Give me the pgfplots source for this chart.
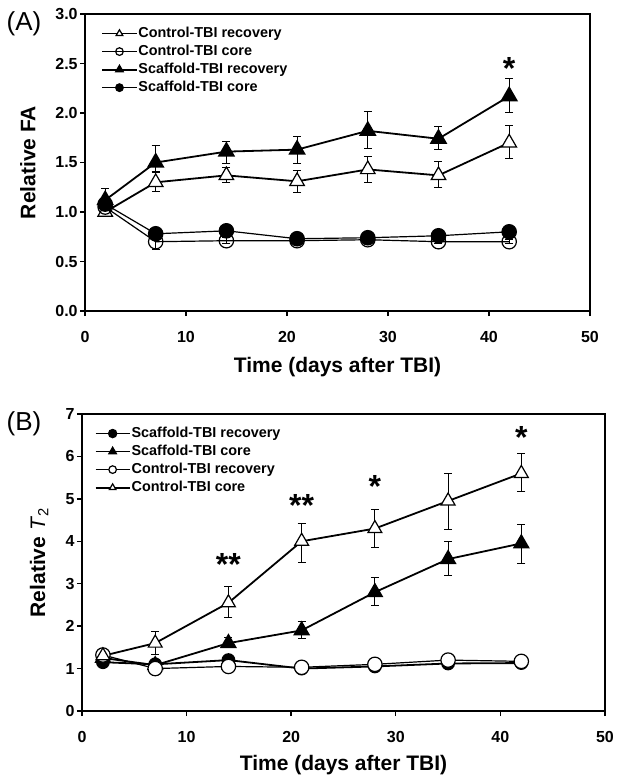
\documentclass[border=0pt]{standalone}
\usepackage{fontspec}
\setmainfont{Liberation Sans}
\usepackage{pgfplots}
\pgfplotsset{compat=1.18}

\pgfplotsset{
  panel/.style={
    scale only axis,
    xmin=0, xmax=50,
    xtick={0,10,...,50},
    tick pos=left,
    tick align=outside,
    major tick length=2.5pt,
    axis line style={line width=1pt},
    every tick/.style={black, line width=0.7pt},
    tick label style={font=\fontsize{8}{9}\selectfont\bfseries},
    /pgf/number format/assume math mode=true,
    yticklabel style={inner sep=1pt},
    xticklabel style={yshift=-4pt},
    legend cell align=left,
    legend style={draw=none, fill=none, font=\fontsize{7.2}{8}\selectfont\bfseries,
      row sep=1.3pt, nodes={inner sep=0.5pt}},
    legend image post style={mark size=1.9pt},
    error bars/y dir=both,
    error bars/y explicit,
    error bars/error bar style={line width=0.5pt},
    error bars/error mark options={rotate=90, mark size=2pt, line width=0.5pt},
  },
  thk/.style={black, line width=0.9pt},
  thn/.style={black, line width=0.6pt},
}

\begin{document}
\begin{tikzpicture}
\path[use as bounding box] (0,0) rectangle (310pt,392pt);

% (A) relative FA
\begin{axis}[panel,
  at={(42.5pt,236.5pt)}, anchor=south west,
  width=252.5pt, height=148.5pt,
  ymin=0, ymax=3, ytick={0,0.5,...,3},
  yticklabel style={/pgf/number format/.cd, fixed, fixed zerofill, precision=1},
  xlabel={\bfseries Time (days after TBI)},
  ylabel={\bfseries Relative FA},
  xlabel style={at={(axis description cs:0.5,-0.1886)}, anchor=center, font=\fontsize{10.5}{11}\selectfont},
  ylabel style={at={(axis description cs:-0.113,0.5)}, anchor=center, font=\fontsize{10.5}{11}\selectfont},
  legend style={at={(0.02,0.975)}, anchor=north west},
]
\addplot[thk, mark=triangle*, mark size=4.2pt, mark options={fill=white, line width=0.6pt}]
  coordinates {
  (2,1.00) += (0,0.05) -= (0,0.05)
  (7,1.30) += (0,0.11) -= (0,0.09)
  (14,1.37) += (0,0.08) -= (0,0.07)
  (21,1.31) += (0,0.11) -= (0,0.11)
  (28,1.43) += (0,0.13) -= (0,0.13)
  (35,1.37) += (0,0.14) -= (0,0.12)
  (42,1.70) += (0,0.17) -= (0,0.16)
};
\addlegendentry{Control-TBI recovery}
\addplot[thn, mark=o, mark size=3.6pt, mark options={fill=white, line width=0.6pt}]
  coordinates {
  (2,1.05) += (0,0.04) -= (0,0.04)
  (7,0.70) += (0,0.04) -= (0,0.08)
  (14,0.71) += (0,0.03) -= (0,0.03)
  (21,0.71) += (0,0.03) -= (0,0.03)
  (28,0.72) += (0,0.03) -= (0,0.03)
  (35,0.70) += (0,0.02) -= (0,0.02)
  (42,0.70) += (0,0.02) -= (0,0.02)
};
\addlegendentry{Control-TBI core}
\addplot[thk, mark=triangle*, mark size=4.2pt, mark options={fill=black}]
  coordinates {
  (2,1.12) += (0,0.12) -= (0,0.08)
  (7,1.50) += (0,0.17) -= (0,0.10)
  (14,1.61) += (0,0.10) -= (0,0.12)
  (21,1.63) += (0,0.13) -= (0,0.14)
  (28,1.82) += (0,0.20) -= (0,0.18)
  (35,1.74) += (0,0.12) -= (0,0.11)
  (42,2.17) += (0,0.18) -= (0,0.16)
};
\addlegendentry{Scaffold-TBI recovery}
\addplot[thn, mark=*, mark size=3.6pt, mark options={fill=black}]
  coordinates {
  (2,1.08) += (0,0.03) -= (0,0.03)
  (7,0.78) += (0,0.03) -= (0,0.03)
  (14,0.81) += (0,0.03) -= (0,0.03)
  (21,0.73) += (0,0.03) -= (0,0.03)
  (28,0.74) += (0,0.03) -= (0,0.03)
  (35,0.76) += (0,0.03) -= (0,0.03)
  (42,0.80) += (0,0.03) -= (0,0.03)
};
\addlegendentry{Scaffold-TBI core}
\node[font=\fontsize{16}{16}\selectfont\bfseries] at (axis cs:42,2.45) {*};
\end{axis}
\node[font=\fontsize{13}{14}\selectfont] at (12pt,380pt) {(A)};

% (B) relative T2
\begin{axis}[panel,
  at={(41pt,36.5pt)}, anchor=south west,
  width=261.5pt, height=148.5pt,
  ymin=0, ymax=7, ytick={0,1,...,7},
  xlabel={\bfseries Time (days after TBI)},
  ylabel={{\bfseries Relative} \textit{T}\textsubscript{2}},
  xlabel style={at={(axis description cs:0.5,-0.182)}, anchor=center, font=\fontsize{10.5}{11}\selectfont},
  ylabel style={at={(axis description cs:-0.082,0.5)}, anchor=center, font=\fontsize{10.5}{11}\selectfont},
  legend style={at={(0.012,0.975)}, anchor=north west},
]
\addplot[thk, mark=*, mark size=3pt, mark options={fill=black}]
  coordinates {
  (2,1.15) (7,1.10) (14,1.20) (21,1.00) (28,1.05) (35,1.12) (42,1.13)
};
\addlegendentry{Scaffold-TBI recovery}
\addplot[thk, mark=triangle*, mark size=4pt, mark options={fill=black}]
  coordinates {
  (2,1.25) += (0,0.05) -= (0,0.05)
  (7,1.08) += (0,0.05) -= (0,0.05)
  (14,1.60) += (0,0.13) -= (0,0.10)
  (21,1.90) += (0,0.22) -= (0,0.20)
  (28,2.80) += (0,0.34) -= (0,0.32)
  (35,3.58) += (0,0.42) -= (0,0.38)
  (42,3.95) += (0,0.45) -= (0,0.47)
};
\addlegendentry{Scaffold-TBI core}
\addplot[thn, mark=*, mark size=3.6pt, mark options={fill=white, line width=0.6pt}]
  coordinates {
  (2,1.32) (7,1.00) (14,1.05) (21,1.03) (28,1.10) (35,1.20) (42,1.17)
};
\addlegendentry{Control-TBI recovery}
\addplot[thk, mark=triangle*, mark size=4pt, mark options={fill=white, line width=0.6pt}]
  coordinates {
  (2,1.30) += (0,0.05) -= (0,0.05)
  (7,1.60) += (0,0.28) -= (0,0.28)
  (14,2.55) += (0,0.38) -= (0,0.35)
  (21,4.00) += (0,0.42) -= (0,0.50)
  (28,4.30) += (0,0.45) -= (0,0.45)
  (35,4.95) += (0,0.65) -= (0,0.67)
  (42,5.60) += (0,0.47) -= (0,0.43)
};
\addlegendentry{Control-TBI core}
\node[font=\fontsize{16}{16}\selectfont\bfseries] at (axis cs:14,3.45) {**};
\node[font=\fontsize{16}{16}\selectfont\bfseries] at (axis cs:21,4.85) {**};
\node[font=\fontsize{16}{16}\selectfont\bfseries] at (axis cs:28,5.3) {*};
\node[font=\fontsize{16}{16}\selectfont\bfseries] at (axis cs:42,6.45) {*};
\end{axis}
\node[font=\fontsize{13}{14}\selectfont] at (12pt,180pt) {(B)};
\end{tikzpicture}
\end{document}
